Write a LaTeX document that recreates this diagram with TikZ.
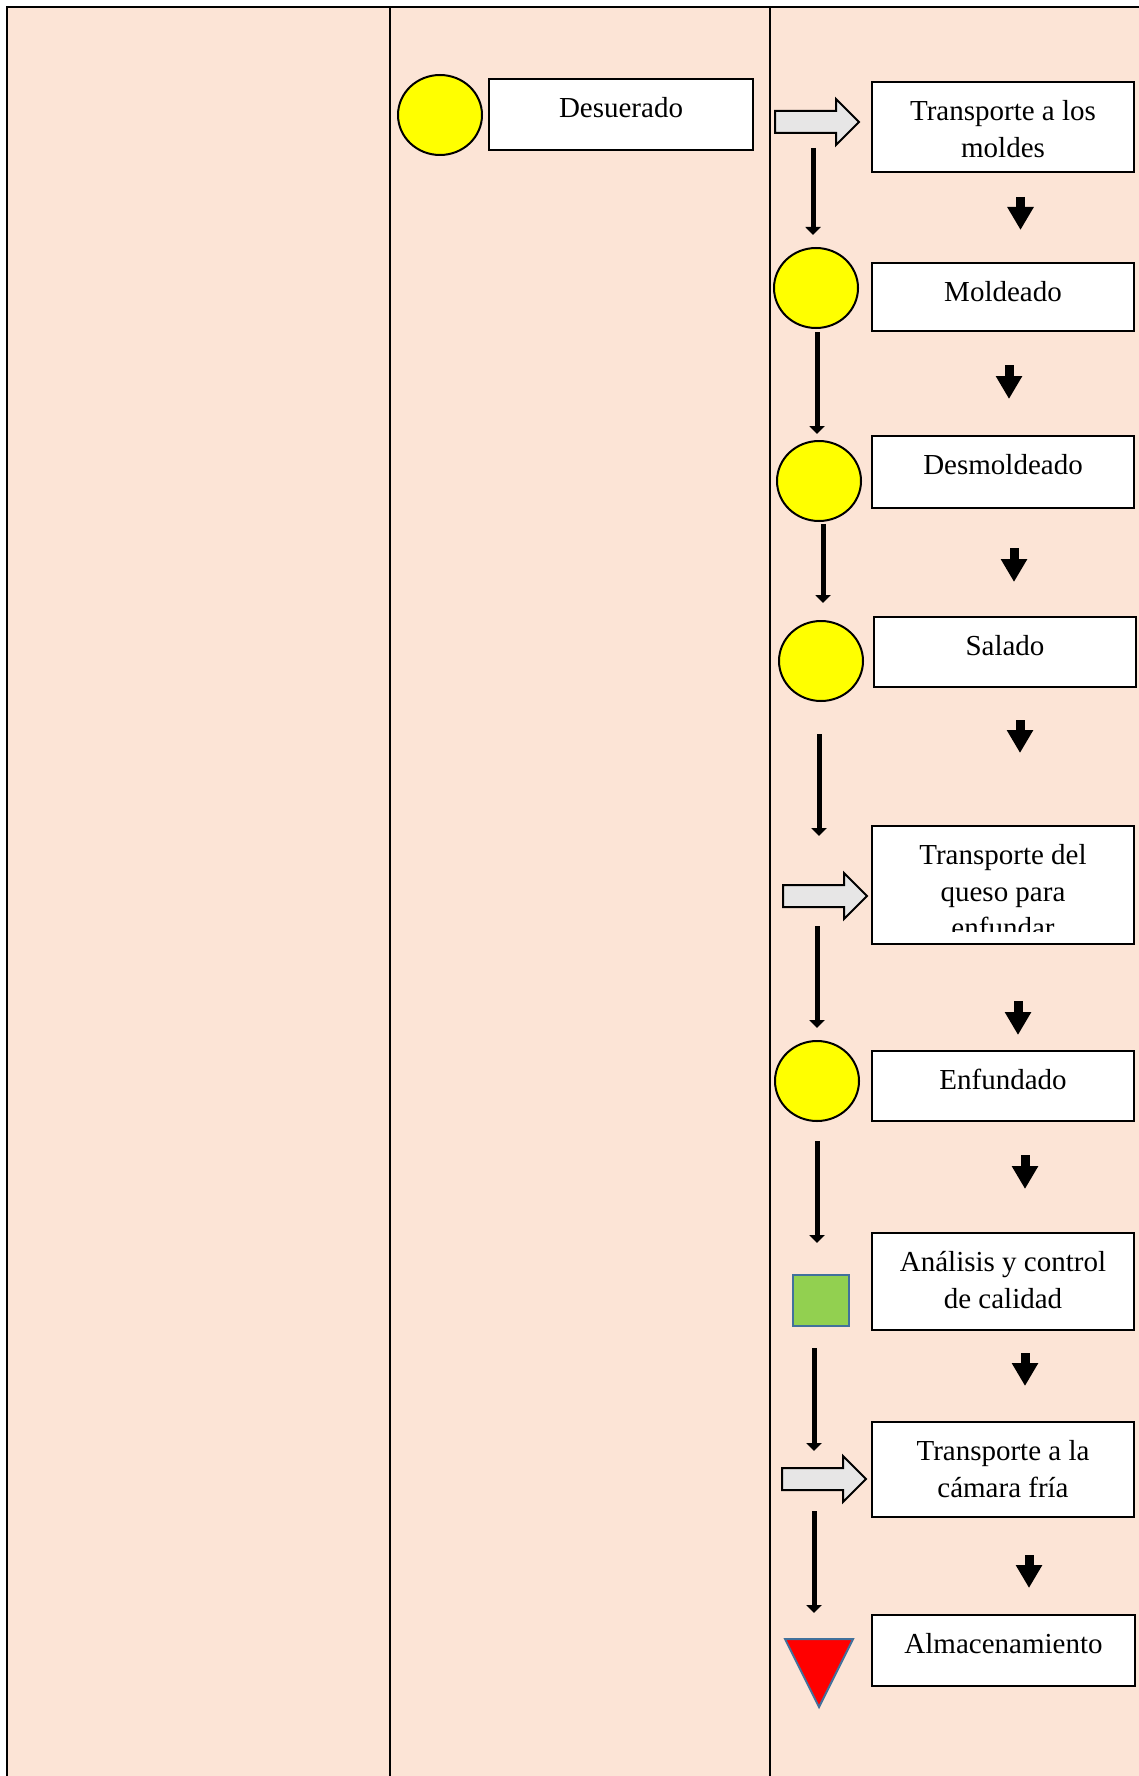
\documentclass[tikz,border=0pt]{standalone}
\usepackage{fontspec}
\setmainfont{Liberation Serif}
\usetikzlibrary{shapes.geometric,arrows.meta}
\definecolor{peach}{HTML}{FCE4D6}
\definecolor{opyellow}{HTML}{FFFF00}
\definecolor{trgray}{HTML}{E7E6E6}
\definecolor{qgreen}{HTML}{92D050}
\definecolor{edgeblue}{HTML}{41719C}
\definecolor{stred}{HTML}{FF0000}
\begin{document}
\begin{tikzpicture}[x=1pt,y=-1pt,
  lane/.style={line width=2pt, draw=black},
  box/.style={draw, line width=2.5pt, fill=white, inner sep=0pt, minimum width=262pt},
  lbl/.style={anchor=base, inner sep=0pt, font=\fontsize{29}{36.5}\selectfont, text width=262pt, align=flush center},
  op/.style={ellipse, draw, line width=2pt, fill=opyellow, minimum width=84pt, minimum height=80pt, inner sep=0pt},
  flow/.style={line width=5pt, -{Triangle[width=15pt,length=8pt]}},
  smallflow/.style={line width=9pt, -{Triangle[width=25pt,length=23pt]}},
  blockarrow/.pic={\draw[line width=2pt, fill=trgray, line join=miter] (0,-11) -- (61,-11) -- (61,-23) -- (84,0) -- (61,23) -- (61,11) -- (0,11) -- cycle;}
]
\useasboundingbox (0,0) rectangle (1139,1776);
% table
\fill[peach] (7,7) rectangle (1139,1776);
\draw[lane] (7,1776) -- (7,7) -- (1139,7);
\draw[lane] (390,7) -- (390,1776);
\draw[lane] (770,7) -- (770,1776);

% column 2
\node[op] (c0) at (440,115) {};
\node[box, minimum width=264pt, minimum height=71pt] (b0) at (621,114.5) {};
\node[lbl] (t0) at ([yshift=-40pt]b0.north) {Desuerado};

% operation circles
\node[op] (c1) at (816,288) {};
\node[op] (c2) at (819,481) {};
\node[op] (c3) at (821,661) {};
\node[op] (c4) at (817,1081) {};

% inspection and storage
\node[draw=edgeblue, fill=qgreen, line width=1.5pt, minimum width=56pt, minimum height=51pt, inner sep=0pt] (insp) at (821,1300.5) {};
\coordinate (st) at (819,1662);
\draw[draw=edgeblue, fill=stred, line width=2pt] (785,1639) -- (853,1639) -- (819,1707) -- cycle;

% transport block arrows
\pic (ba1) at (775,122) {blockarrow};
\pic (ba2) at (783,896) {blockarrow};
\pic (ba3) at (782,1479) {blockarrow};

% boxes in column 3
\node[box, minimum height=90pt] (b1) at (1003,127) {};
\node[lbl] (t1) at ([yshift=-40pt]b1.north) {Transporte a los\\moldes};
\node[box, minimum height=68pt] (b2) at (1003,297) {};
\node[lbl] (t2) at ([yshift=-40pt]b2.north) {Moldeado};
\node[box, minimum height=72pt] (b3) at (1003,472) {};
\node[lbl] (t3) at ([yshift=-40pt]b3.north) {Desmoldeado};
\node[box, minimum height=70pt] (b4) at (1005,652) {};
\node[lbl] (t4) at ([yshift=-40pt]b4.north) {Salado};
\node[box, minimum height=118pt] (b5) at (1003,885) {};
\begin{scope}
\clip (872,826) rectangle (1134,931);
\node[lbl] (t5) at ([yshift=-40pt]b5.north) {Transporte del\\queso para\\enfundar};
\end{scope}
\node[box, minimum height=70pt] (b6) at (1003,1086) {};
\node[lbl] (t6) at ([yshift=-40pt]b6.north) {Enfundado};
\node[box, minimum height=97pt] (b7) at (1003,1281.5) {};
\node[lbl] (t7) at ([yshift=-40pt]b7.north) {Análisis y control\\de calidad};
\node[box, minimum height=95pt] (b8) at (1003,1469.5) {};
\node[lbl] (t8) at ([yshift=-40pt]b8.north) {Transporte a la\\cámara fría};
\node[box, minimum width=263pt, minimum height=71pt] (b9) at (1003.5,1650.5) {};
\node[lbl] (t9) at ([yshift=-40pt]b9.north) {Almacenamiento};

% long flow arrows
\foreach \i/\x/\ya/\yb in {1/813/148/235, 2/817/332/434, 3/823/524/603, 4/819/734/836,
                           5/817/926/1028, 6/817/1141/1243, 7/814/1348/1451, 8/814/1511/1613}{
  \coordinate (fs\i) at (\x,\ya);
  \coordinate (fe\i) at (\x,\yb);
  \draw[flow] (fs\i) -- (fe\i);
}
% small arrows
\foreach \i/\x/\ya/\yb in {1/1020.5/197/230, 2/1009/365/399, 3/1014/548/582, 4/1020/720/753,
                           5/1018/1001/1035, 6/1025/1155/1189, 7/1025/1353/1386, 8/1029/1555/1588}{
  \coordinate (ss\i) at (\x,\ya);
  \coordinate (se\i) at (\x,\yb);
  \draw[smallflow] (ss\i) -- (se\i);
}
\end{tikzpicture}
\end{document}
